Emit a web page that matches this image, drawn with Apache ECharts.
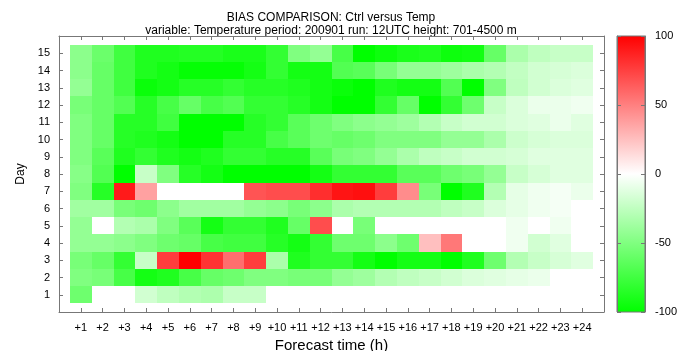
<!DOCTYPE html>
<html><head><meta charset="utf-8">
<script src="https://cdn.jsdelivr.net/npm/echarts@6.0.0/dist/echarts.min.js"></script>
<style>html,body{margin:0;padding:0;background:#fff}#c{width:686px;height:351px}</style>
</head><body><div id="c"></div>
<script>
// Forecast hours (x) and days (y)
const hours = [1,2,3,4,5,6,7,8,9,10,11,12,13,14,15,16,17,18,19,20,21,22,23,24];
const days = [1,2,3,4,5,6,7,8,9,10,11,12,13,14,15];
const barTicks = [-100,-50,0,50,100];
// Bias values per day, for forecast hours +1 .. +24
const day01 = [-57,0,0,-18,-25,-30,-32,-22,-22,0,0,0,0,0,0,0,0,0,0,0,0,0,0,0];
const day02 = [-50,-53,-72,-92,-88,-72,-60,-57,-50,-50,-53,-53,-42,-38,-30,-25,-22,-18,-14,-12,-10,-8,0,0];
const day03 = [-53,-60,-80,-22,76,100,80,57,76,-33,-88,-80,-80,-92,-100,-92,-92,-100,-88,-57,-30,-22,-16,-12];
const day04 = [-42,-42,-45,-50,-57,-60,-72,-75,-75,-85,-92,-80,-57,-57,-45,-57,25,53,0,0,-6,-18,-12,0];
const day05 = [-42,0,-30,-33,-50,-65,-92,-80,-80,-88,-60,70,0,-53,0,0,0,0,0,0,-6,0,-6,0];
const day06 = [-37,-37,-53,-57,-45,-37,-37,-37,-42,-45,-53,-45,-33,-30,-30,-30,-30,-25,-22,-14,-10,-6,-4,0];
const day07 = [-50,-85,90,37,0,0,0,0,67,70,70,82,92,94,76,45,-53,-100,-88,-30,-10,-6,-4,-8];
const day08 = [-47,-68,-100,-22,-50,-85,-92,-100,-100,-100,-100,-92,-80,-80,-80,-65,-65,-57,-53,-42,-22,-16,-12,-12];
const day09 = [-50,-65,-88,-80,-88,-92,-88,-80,-80,-85,-85,-65,-53,-50,-42,-33,-25,-22,-18,-18,-16,-12,-12,-12];
const day10 = [-50,-60,-85,-88,-92,-100,-100,-85,-85,-72,-65,-57,-60,-57,-50,-50,-50,-42,-42,-33,-20,-16,-14,-14];
const day11 = [-50,-60,-85,-85,-75,-100,-100,-100,-85,-80,-65,-57,-50,-45,-42,-38,-30,-22,-18,-18,-14,-12,-8,-12];
const day12 = [-53,-60,-68,-85,-72,-60,-72,-68,-80,-80,-85,-92,-100,-100,-80,-60,-100,-80,-57,-22,-14,-8,-8,-6];
const day13 = [-42,-60,-75,-96,-92,-85,-85,-80,-85,-85,-88,-92,-96,-100,-88,-92,-92,-68,-100,-50,-25,-18,-14,-12];
const day14 = [-45,-60,-75,-88,-92,-98,-98,-98,-92,-80,-92,-92,-68,-65,-53,-42,-42,-38,-33,-30,-24,-18,-16,-14];
const day15 = [-45,-58,-75,-88,-88,-86,-86,-90,-90,-80,-50,-42,-72,-100,-95,-90,-88,-95,-93,-60,-33,-25,-22,-22];

const rows = [day01,day02,day03,day04,day05,day06,day07,day08,day09,day10,day11,day12,day13,day14,day15];
const cells = [];
days.forEach((d, i) => hours.forEach((h, j) => cells.push([h, d, rows[i][j]])));

const FONT = "'Liberation Sans', Arial, sans-serif";
const FRAME = '#777';
const tick = {show: true, inside: true, length: 4, lineStyle: {color: FRAME}};
const line = {show: true, onZero: false, lineStyle: {color: FRAME, width: 1}};

const chart = echarts.init(document.getElementById('c'), null, {renderer: 'canvas'});
chart.setOption({
  animation: false,
  backgroundColor: '#fff',
  textStyle: {fontFamily: FONT},
  title: {
    text: 'BIAS COMPARISON: Ctrl versus Temp',
    subtext: 'variable: Temperature period: 200901 run: 12UTC height: 701-4500 m',
    left: 331, top: 12, textAlign: 'center', itemGap: 1, padding: 0,
    textStyle: {fontSize: 12, fontWeight: 'normal', color: '#000', fontFamily: FONT},
    subtextStyle: {fontSize: 12, color: '#000', fontFamily: FONT}
  },
  grid: [
    {left: 59, top: 36, width: 545, height: 276, containLabel: false, outerBoundsMode: 'none'},
    {left: 617, top: 36, width: 28, height: 276, containLabel: false, outerBoundsMode: 'none'}
  ],
  visualMap: {
    type: 'continuous', show: false, min: -100, max: 100, dimension: 2, seriesIndex: 0,
    inRange: {color: ['#00ff00', '#ffffff', '#ff0000']}
  },
  xAxis: [
    {type: 'value', gridIndex: 0, position: 'bottom', min: 0, max: 25, interval: 1, z: 10,
     name: 'Forecast time (h)', nameLocation: 'middle', nameGap: 22,
     nameTextStyle: {fontSize: 15, color: '#000', fontFamily: FONT},
     axisLine: line, axisTick: tick, splitLine: {show: false},
     axisLabel: {margin: 10, fontSize: 11, color: '#000', fontFamily: FONT,
       formatter: v => (hours.indexOf(v) >= 0 ? '+' + v : '')}},
    {type: 'value', gridIndex: 0, position: 'top', min: 0, max: 25, interval: 1, z: 10,
     axisLine: line, axisTick: tick, splitLine: {show: false}, axisLabel: {show: false}},
    {type: 'value', gridIndex: 1, min: 0, max: 1, show: false}
  ],
  yAxis: [
    {type: 'value', gridIndex: 0, position: 'left', min: 0, max: 16, interval: 1, z: 10,
     name: 'Day', nameLocation: 'middle', nameGap: 18,
     nameTextStyle: {fontSize: 12, color: '#000', fontFamily: FONT},
     axisLine: line, axisTick: tick, splitLine: {show: false},
     axisLabel: {margin: 9, fontSize: 11, color: '#000', fontFamily: FONT,
       formatter: v => (days.indexOf(v) >= 0 ? String(v) : '')}},
    {type: 'value', gridIndex: 0, position: 'right', min: 0, max: 16, interval: 1, z: 10,
     axisLine: line, axisTick: tick, splitLine: {show: false}, axisLabel: {show: false}},
    {type: 'value', gridIndex: 1, position: 'right', min: -100, max: 100, interval: 50, z: 10,
     axisLine: line, axisTick: tick, splitLine: {show: false},
     axisLabel: {margin: 10, fontSize: 11, color: '#000', fontFamily: FONT,
       formatter: v => (barTicks.indexOf(v) >= 0 ? String(v) : '')}},
    {type: 'value', gridIndex: 1, position: 'left', min: -100, max: 100, interval: 50, z: 10,
     axisLine: line, axisTick: tick, splitLine: {show: false}, axisLabel: {show: false}}
  ],
  series: [
    {
      type: 'custom', xAxisIndex: 0, yAxisIndex: 0, data: cells,
      encode: {x: 0, y: 1},
      renderItem: function (params, api) {
        const x = api.value(0), y = api.value(1);
        const p0 = api.coord([x - 0.5, y + 0.5]);
        const p1 = api.coord([x + 0.5, y - 0.5]);
        const x0 = Math.round(p0[0]), y0 = Math.round(p0[1]);
        const x1 = Math.round(p1[0]), y1 = Math.round(p1[1]);
        return {type: 'rect', shape: {x: x0, y: y0, width: x1 - x0, height: y1 - y0},
                style: {fill: api.visual('color')}};
      }
    },
    {
      type: 'custom', xAxisIndex: 2, yAxisIndex: 2, data: [[0, 100]],
      renderItem: function (params, api) {
        const p0 = api.coord([0, 100]);
        const p1 = api.coord([1, -100]);
        return {type: 'rect', shape: {x: p0[0], y: p0[1], width: p1[0] - p0[0], height: p1[1] - p0[1]},
                style: {fill: new echarts.graphic.LinearGradient(0, 0, 0, 1, [
                  {offset: 0, color: '#ff0000'}, {offset: 0.5, color: '#ffffff'}, {offset: 1, color: '#00ff00'}
                ]), stroke: FRAME, lineWidth: 1}};
      }
    }
  ]
});
</script>
</body></html>
